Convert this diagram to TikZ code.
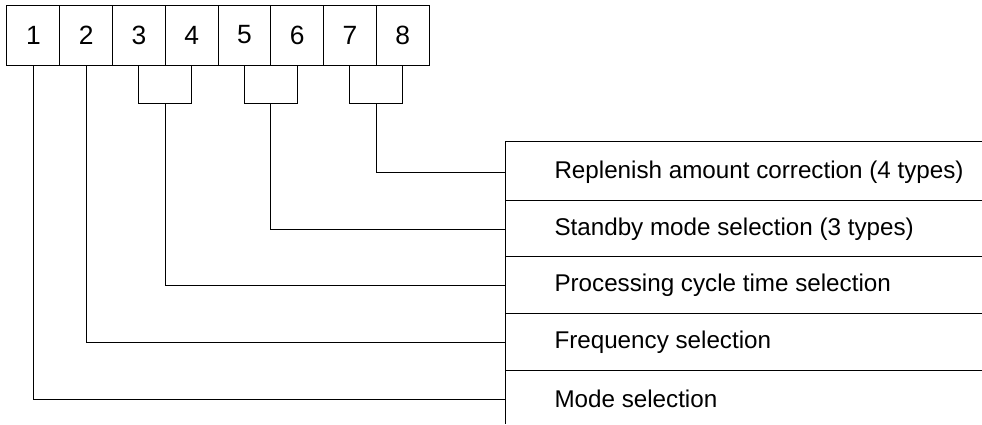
\documentclass[tikz,border=0pt]{standalone}
\usepackage{fontspec}
\setmainfont{Liberation Sans}
\usetikzlibrary{calc}
\begin{document}
\begin{tikzpicture}[x=1bp,y=-1bp,line width=1bp,
  cell/.style={draw,minimum width=52.75bp,minimum height=60bp,inner sep=0pt,font=\fontsize{26.5}{30}\selectfont},
  rowtext/.style={anchor=west,inner sep=0pt,font=\fontsize{24.3}{28}\selectfont}]
\useasboundingbox (0,0) rectangle (982,424);
% boxes
\foreach \i in {1,...,8}{
  \node[cell] (b\i) at ({7+52.75*(\i-0.5)},35) {\i};
}
% right table lines
\coordinate (vtop) at (505.7,141);
\coordinate (vbot) at (505.7,424);
\draw (vtop) -- (vbot);
\foreach \y in {141,200,256.7,313.3,370}{
  \draw (505.7,\y) -- (982,\y);
}
% row labels
\node[rowtext] (t1) at (554,172.7) {Replenish amount correction (4 types)};
\node[rowtext] (t2) at (554,229) {Standby mode selection (3 types)};
\node[rowtext] (t3) at (554,285.7) {Processing cycle time selection};
\node[rowtext] (t4) at (554,342.3) {Frequency selection};
\node[rowtext] (t5) at (554,399.3) {Mode selection};
% entry points on vertical line
\coordinate (e1) at (505.7,172.7);
\coordinate (e2) at (505.7,229);
\coordinate (e3) at (505.7,285.7);
\coordinate (e4) at (505.7,342.3);
\coordinate (e5) at (505.7,399.3);
% brackets
\foreach \a/\b/\m in {3/4/m34,5/6/m56,7/8/m78}{
  \draw (b\a.south) -- ++(0,38) -| (b\b.south);
  \coordinate (\m) at ($(b\a.south)!0.5!(b\b.south)+(0,38)$);
}
% connectors
\draw (b1.south) |- (e5);
\draw (b2.south) |- (e4);
\draw (m34) |- (e3);
\draw (m56) |- (e2);
\draw (m78) |- (e1);
\end{tikzpicture}
\end{document}
